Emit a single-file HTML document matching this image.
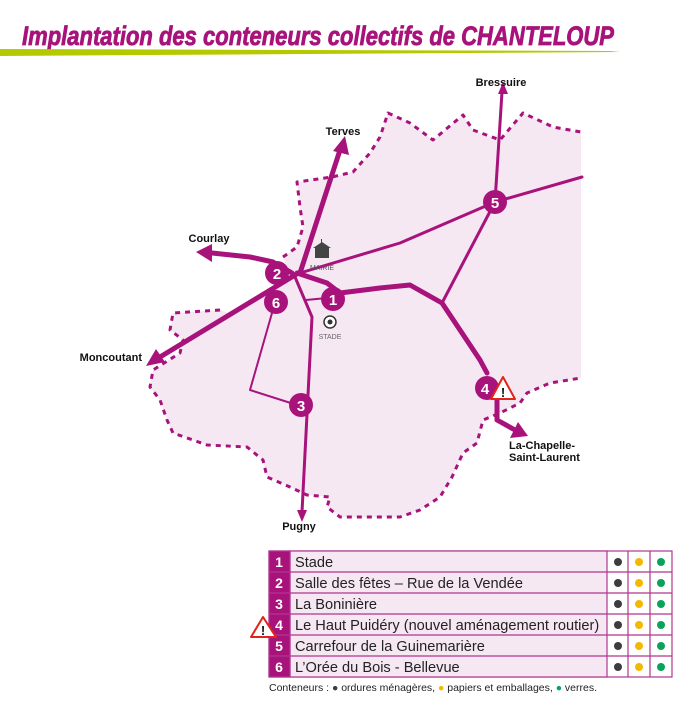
<!DOCTYPE html>
<html><head><meta charset="utf-8"><style>
body{margin:0;background:#fff;width:700px;height:702px;overflow:hidden;font-family:"Liberation Sans",sans-serif}
</style></head><body>
<svg width="700" height="702" viewBox="0 0 700 702" xmlns="http://www.w3.org/2000/svg" style="position:absolute;left:0;top:0">
<text x="22" y="45" font-family="Liberation Sans" font-weight="bold" font-style="italic" font-size="27" fill="#a8137b" stroke="#a8137b" stroke-width="0.8" textLength="592" lengthAdjust="spacingAndGlyphs">Implantation des conteneurs collectifs de CHANTELOUP</text>
<path d="M0 49 L610 51 L620 52 L0 56 Z" fill="#b5c900"/>
<!-- region fill -->
<path d="M297 182 L332 177 L353 172 L370 153 L380 137 L388 113 L410 123 L433 140 L463 115 L473 130 L500 140 L523 113 L553 127 L581 132 L581 378 L550 383 L527 393 L520 403 L500 413 L483 420 L477 443 L463 453 L452 477 L440 497 L420 510 L400 517 L340 517 L327 507 L330 497 L307 495 L290 487 L267 477 L263 460 L247 447 L207 445 L173 433 L167 420 L160 400 L150 387 L153 370 L180 353 L183 340 L170 330 L173 313 L220 310 L232 314 L290 278 L283 257 L297 247 L303 227 L300 207 Z" fill="#f6e8f3"/>
<g fill="none" stroke="#a8137b" stroke-width="3" stroke-dasharray="5 5" stroke-linejoin="round">
<path d="M283 257 L297 247 L303 227 L300 207 L297 182 L332 177 L353 172 L370 153 L380 137 L388 113 L410 123 L433 140 L463 115 L473 130 L500 140 L523 113 L553 127 L581 132"/>
<path d="M220 310 L173 313 L170 330 L183 340 L180 353 L153 370 L150 387 L160 400 L167 420 L173 433 L207 445 L247 447 L263 460 L267 477 L290 487 L307 495 L330 497 L327 507 L340 517 L400 517 L420 510 L440 497 L452 477 L463 453 L477 443 L483 420 L500 413 L520 403 L527 393 L550 383 L581 378"/>
</g>
<g fill="none" stroke="#a8137b" stroke-linecap="round" stroke-linejoin="round">
<path d="M300 273 L400 243 L495 202 L582 177" stroke-width="3"/>
<path d="M442 303 L495 202 L502 92" stroke-width="3"/>
<path d="M295 277 L312 317 L302 512" stroke-width="3"/>
<path d="M306 300 L327 298" stroke-width="2"/>
<path d="M272 313 L250 390 L297 405" stroke-width="2"/>
<path d="M300 273 L340 150" stroke-width="5"/>
<path d="M292 273 L273 262 L250 257 L212 253" stroke-width="5"/>
<path d="M300 272 L160 357" stroke-width="5"/>
<path d="M297 273 L327 283 L340 293 L380 288 L410 285 L442 303 L480 360 L487 373" stroke-width="5"/>
<path d="M497 400 L497 420 L515 430" stroke-width="5"/>
</g>
<g fill="#a8137b">
<polygon points="345,136 349,155 333,151"/>
<polygon points="196,252 212,244 212,262"/>
<polygon points="146,366 156,349 165,362"/>
<polygon points="528,436 510,438 518,422"/>
<polygon points="503,82 508,94 498,94"/>
<polygon points="302,522 297,510 307,510"/>
<circle cx="277" cy="273" r="12"/><circle cx="276" cy="302" r="12"/><circle cx="333" cy="299" r="12"/>
<circle cx="301" cy="405" r="12"/><circle cx="495" cy="202" r="12"/><circle cx="487" cy="388" r="12"/>
</g>
<g fill="#fff" font-weight="bold" font-size="15" text-anchor="middle">
<text x="277" y="279">2</text><text x="276" y="308">6</text><text x="333" y="305">1</text>
<text x="301" y="411">3</text><text x="495" y="208">5</text><text x="485" y="394">4</text>
</g>
<g font-weight="bold" font-size="11" fill="#111">
<text x="343" y="135" text-anchor="middle">Terves</text>
<text x="209" y="242" text-anchor="middle">Courlay</text>
<text x="142" y="361" text-anchor="end">Moncoutant</text>
<text x="299" y="530" text-anchor="middle">Pugny</text>
<text x="501" y="86" text-anchor="middle">Bressuire</text>
<text x="509" y="449">La-Chapelle-</text>
<text x="509" y="461">Saint-Laurent</text>
</g>
<g fill="#444"><rect x="315" y="248" width="14" height="10"/><polygon points="313,248 322,242 331,248"/><rect x="321" y="239" width="1" height="4"/></g>
<text x="322" y="270" font-size="7" fill="#555" text-anchor="middle">MAIRIE</text>
<circle cx="330" cy="322" r="6" fill="#fff" stroke="#333" stroke-width="1.5"/><circle cx="330" cy="322" r="2.5" fill="#333"/>
<text x="330" y="339" font-size="7" fill="#666" text-anchor="middle">STADE</text>
<polygon points="503,377 515,399 491,399" fill="#fff" stroke="#e2231a" stroke-width="2" stroke-linejoin="round"/>
<text x="503" y="397" font-size="13" font-weight="bold" text-anchor="middle" fill="#111">!</text>
<g stroke="#b0358f" stroke-width="1.2">
<rect x="269" y="551" width="403" height="126" fill="#fff"/>
<rect x="290" y="551" width="317" height="126" fill="#f6e8f3"/>
<rect x="269" y="551" width="21" height="126" fill="#a8137b"/>
<line x1="269" y1="572" x2="672" y2="572"/><line x1="269" y1="593" x2="672" y2="593"/><line x1="269" y1="614" x2="672" y2="614"/><line x1="269" y1="635" x2="672" y2="635"/><line x1="269" y1="656" x2="672" y2="656"/>
<line x1="628" y1="551" x2="628" y2="677"/><line x1="650" y1="551" x2="650" y2="677"/>
</g>
<g fill="#fff" font-weight="bold" font-size="14" text-anchor="middle">
<text x="279" y="567">1</text><text x="279" y="588">2</text><text x="279" y="609">3</text><text x="279" y="630">4</text><text x="279" y="651">5</text><text x="279" y="672">6</text>
</g>
<g fill="#222" font-size="14.6">
<text x="295" y="567">Stade</text><text x="295" y="588">Salle des fêtes – Rue de la Vendée</text><text x="295" y="609">La Boninière</text><text x="295" y="630">Le Haut Puidéry (nouvel aménagement routier)</text><text x="295" y="651">Carrefour de la Guinemarière</text><text x="295" y="672">L’Orée du Bois - Bellevue</text>
</g>
<g>
<g fill="#3d3d3d"><circle cx="618" cy="562" r="4"/><circle cx="618" cy="583" r="4"/><circle cx="618" cy="604" r="4"/><circle cx="618" cy="625" r="4"/><circle cx="618" cy="646" r="4"/><circle cx="618" cy="667" r="4"/></g>
<g fill="#f5b800"><circle cx="639" cy="562" r="4"/><circle cx="639" cy="583" r="4"/><circle cx="639" cy="604" r="4"/><circle cx="639" cy="625" r="4"/><circle cx="639" cy="646" r="4"/><circle cx="639" cy="667" r="4"/></g>
<g fill="#0aa35a"><circle cx="661" cy="562" r="4"/><circle cx="661" cy="583" r="4"/><circle cx="661" cy="604" r="4"/><circle cx="661" cy="625" r="4"/><circle cx="661" cy="646" r="4"/><circle cx="661" cy="667" r="4"/></g>
</g>
<polygon points="263,617 276,637 251,637" fill="#fff" stroke="#e2231a" stroke-width="2" stroke-linejoin="round"/>
<text x="263" y="635" font-size="13" font-weight="bold" text-anchor="middle" fill="#111">!</text>
<text x="269" y="691" font-size="10.5" fill="#222" textLength="328" lengthAdjust="spacingAndGlyphs">Conteneurs : <tspan fill="#3d3d3d">●</tspan> ordures ménagères, <tspan fill="#f5b800">●</tspan> papiers et emballages, <tspan fill="#0aa35a">●</tspan> verres.</text>
</svg>
</body></html>
